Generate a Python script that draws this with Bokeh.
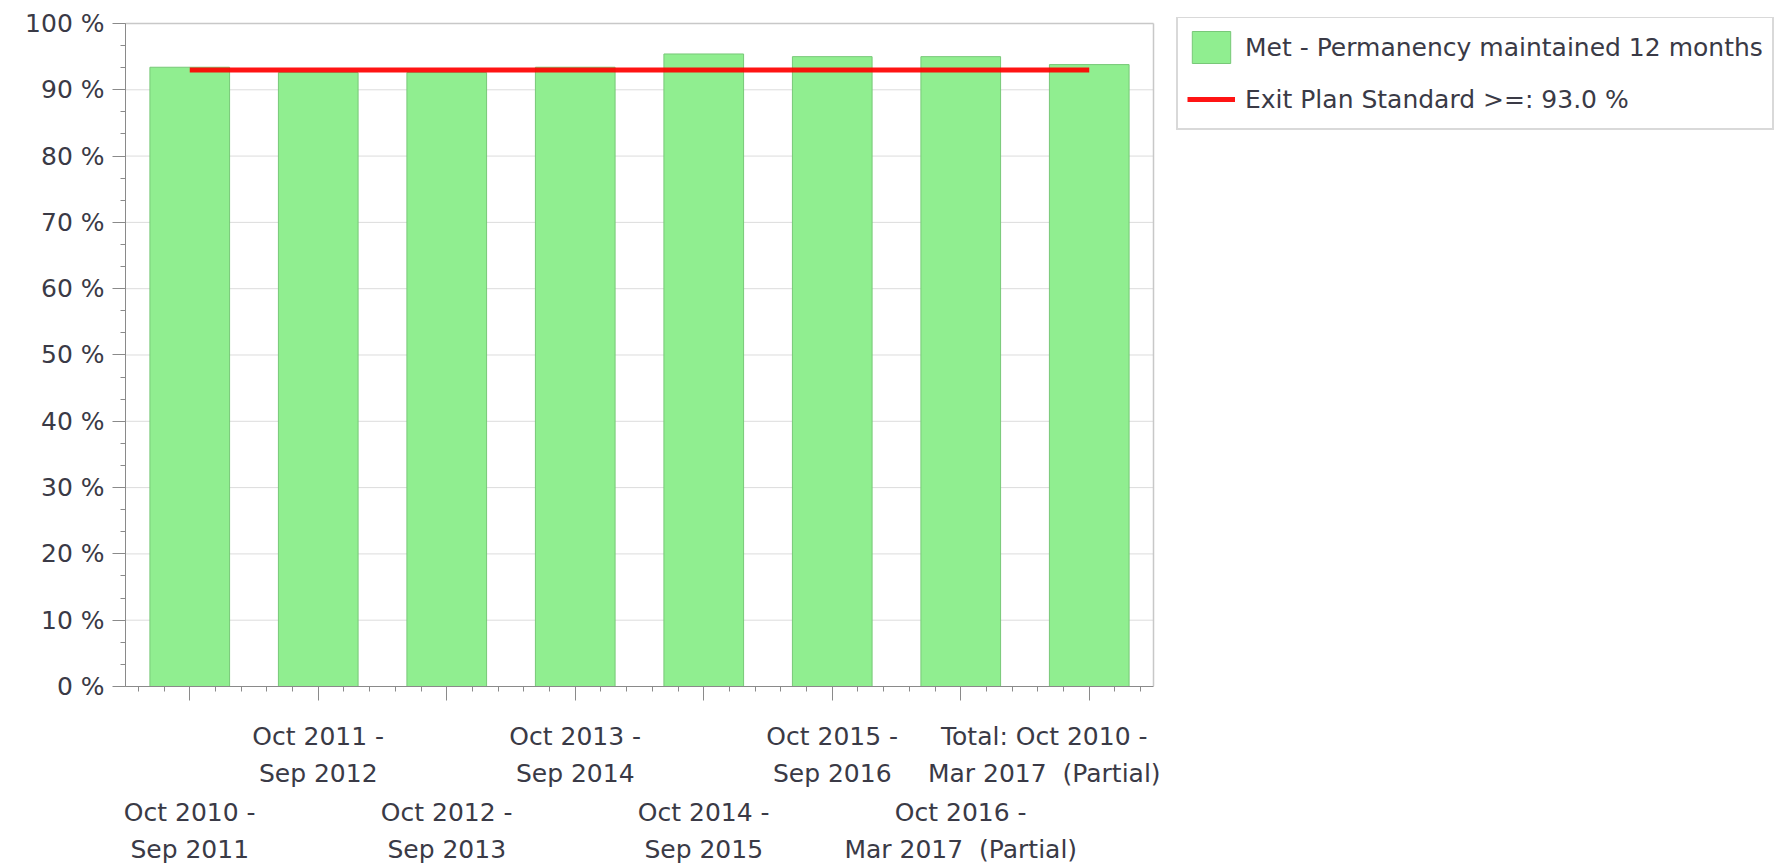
from bokeh.plotting import figure
from bokeh.models import (Range1d, FixedTicker, SingleIntervalTicker, LinearAxis,
                          Legend, LegendItem, ColumnDataSource)
from bokeh.embed import file_html
from bokeh.resources import INLINE

# ---------------- data ----------------
categories = [
    "Oct 2010 -\nSep 2011",
    "Oct 2011 -\nSep 2012",
    "Oct 2012 -\nSep 2013",
    "Oct 2013 -\nSep 2014",
    "Oct 2014 -\nSep 2015",
    "Oct 2015 -\nSep 2016",
    "Oct 2016 -\nMar 2017\u00a0 (Partial)",
    "Total: Oct 2010 -\nMar 2017\u00a0 (Partial)",
]
met_pct = [93.4, 92.6, 92.6, 93.4, 95.4, 95.0, 95.0, 93.8]
standard_value = 93.0
y_ticks = [0, 10, 20, 30, 40, 50, 60, 70, 80, 90, 100]
y_tick_labels = ["0 %", "10 %", "20 %", "30 %", "40 %", "50 %",
                 "60 %", "70 %", "80 %", "90 %", "100 %"]
series_names = ["Met - Permanency maintained 12 months",
                "Exit Plan Standard >=: %.1f %%" % standard_value]

# ---------------- layout / styling ----------------
W, H = 1781, 866
LEFT, TOP, BOTTOM = 125, 17, 178          # canvas borders (px)
AREA_TOP = 23                              # pixel row of the 100 % line
UNIT_PX = 128.5                            # px per category slot
FONT = "DejaVu Sans"
TXT = "#3a3a46"
AXIS = "#8a8a8a"
GRID = "#dcdcdc"
OUTLINE = "#c8c8c8"
AX_FS = "25px"

n = len(categories)
xs = list(range(1, n + 1))
x_lo, x_hi = 0.5, n + 0.5
y_lo, y_hi = y_ticks[0], y_ticks[-1]
frame_w = W - LEFT
frame_h = H - TOP - BOTTOM
px_per_pct = (H - BOTTOM - AREA_TOP) / (y_hi - y_lo)
source = ColumnDataSource(dict(x=xs, met=met_pct, std=[standard_value] * n))

p = figure(width=W, height=H, output_backend="svg", toolbar_location=None,
           x_range=Range1d(x_lo, x_lo + frame_w / UNIT_PX),
           y_range=Range1d(y_lo, y_lo + frame_h / px_per_pct),
           x_axis_location=None,
           min_border_left=LEFT, min_border_top=TOP, min_border_bottom=BOTTOM,
           min_border_right=0)
p.outline_line_color = None
p.xgrid.visible = False
p.ygrid.visible = False
p.background_fill_color = "white"
p.border_fill_color = "white"

# grid lines and plot-area border limited to the plotting area
grid_y = y_ticks[1:-1]
p.segment(x0=[x_lo] * len(grid_y), x1=[x_hi] * len(grid_y), y0=grid_y, y1=grid_y,
          line_color=GRID, line_width=1)
p.segment(x0=[x_lo, x_hi], x1=[x_hi, x_hi], y0=[y_hi, y_lo], y1=[y_hi, y_hi],
          line_color=OUTLINE, line_width=1.5)

bars = p.vbar(x="x", top="met", width=0.62, source=source,
              fill_color="#90ee90", line_color="#78c878", line_width=1)
line = p.line(x="x", y="std", source=source, line_color="#ff0000",
              line_width=5, line_alpha=0.92)

# y axis
ya = p.yaxis[0]
ya.bounds = (y_lo, y_hi)
ya.ticker = SingleIntervalTicker(interval=10, num_minor_ticks=3)
ya.major_label_overrides = {t: l for t, l in zip(y_ticks, y_tick_labels)}
ya.axis_line_color = AXIS
ya.major_tick_line_color = AXIS
ya.minor_tick_line_color = AXIS
ya.major_tick_in = 0
ya.major_tick_out = 13
ya.minor_tick_in = 0
ya.minor_tick_out = 5
ya.major_label_standoff = 8
ya.major_label_text_font = FONT
ya.major_label_text_font_size = AX_FS
ya.major_label_text_color = TXT

# x axis: line + ticks only
minor = [round(1 + i * 0.2 - 0.4, 2) for i in range(0, 5 * n + 1)]
minor = [m for m in minor if x_lo < m < x_hi and m not in xs]
xt = LinearAxis(ticker=FixedTicker(ticks=xs, minor_ticks=minor),
                bounds=(x_lo, x_hi),
                axis_line_color=AXIS, major_tick_line_color=AXIS,
                minor_tick_line_color=AXIS, major_tick_in=0, major_tick_out=14,
                minor_tick_in=0, minor_tick_out=5,
                major_label_overrides={x: "" for x in xs},
                major_label_text_font_size="1px", major_label_standoff=0)

# staggered label rows
upper_pos = [x for x in xs if x % 2 == 0]
lower_pos = [x for x in xs if x % 2 == 1]
upper_pos_draw = upper_pos[:-1] + [round(upper_pos[-1] - 0.35, 2)]
upper_labels = {pd: categories[x - 1] for pd, x in zip(upper_pos_draw, upper_pos)}
lower_labels = {x: categories[x - 1] for x in lower_pos}


def label_axis(pos, labels, standoff):
    return LinearAxis(ticker=FixedTicker(ticks=pos, minor_ticks=[]),
                      axis_line_color=None, major_tick_line_color=None,
                      minor_tick_line_color=None, major_tick_in=0, major_tick_out=0,
                      minor_tick_in=0, minor_tick_out=0,
                      major_label_overrides=labels,
                      major_label_standoff=standoff,
                      major_label_text_font=FONT,
                      major_label_text_font_size=AX_FS,
                      major_label_text_color=TXT,
                      major_label_text_line_height=1.28)


xa = label_axis(upper_pos_draw, upper_labels, 21)
xb = label_axis(lower_pos, lower_labels, 7)
p.add_layout(xt, "below")
p.add_layout(xa, "below")
p.add_layout(xb, "below")

# legend, to the right of the plotting area
legend_left = (x_hi - x_lo) * UNIT_PX + 23
legend_bottom = (H - BOTTOM) - 22 - 110
legend = Legend(items=[LegendItem(label=series_names[0], renderers=[bars]),
                       LegendItem(label=series_names[1], renderers=[line])],
                location=(legend_left, legend_bottom), glyph_width=48, glyph_height=40,
                spacing=12, padding=9, label_standoff=10, margin=0,
                border_line_color="#b4b4b4", border_line_width=2,
                background_fill_color="white", background_fill_alpha=1,
                label_text_font=FONT, label_text_font_size="25px",
                label_text_color=TXT)
p.add_layout(legend, "center")

open("out.html", "w").write(file_html(p, INLINE))
